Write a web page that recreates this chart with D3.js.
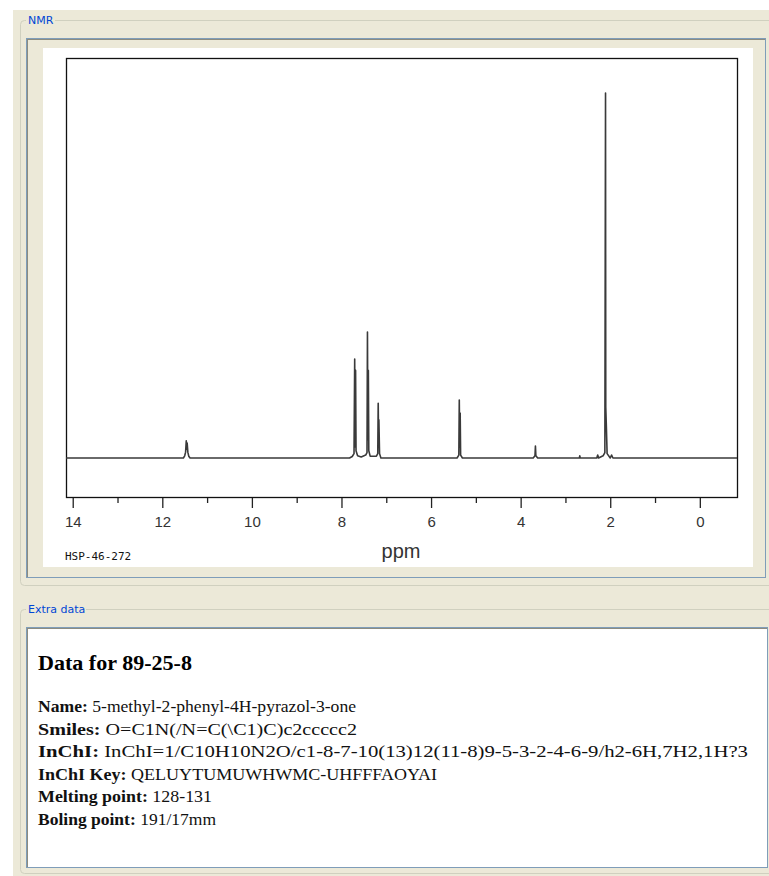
<!DOCTYPE html>
<html>
<head>
<meta charset="utf-8">
<script src="https://cdn.jsdelivr.net/npm/d3@7"></script>
<style>
  html, body { margin: 0; padding: 0; background: #fff; }
  svg { display: block; }
</style>
</head>
<body>
<svg id="nmr-page"></svg>
<script>
"use strict";

// spectrum, descending ppm (intensity: tallest peak = 100)
let shifts = [14.15, 11.53, 11.50, 11.48, 11.465, 11.455, 11.445, 11.43, 11.41, 11.38,
  7.82, 7.76, 7.72, 7.705, 7.695, 7.685, 7.675, 7.64, 7.56, 7.46, 7.43, 7.42, 7.41, 7.40, 7.39, 7.36,
  7.22, 7.19, 7.18, 7.17, 7.165, 7.15, 7.12,
  5.42, 5.38, 5.37, 5.36, 5.35, 5.34, 5.30,
  3.72, 3.68, 3.67, 3.66, 3.62,
  2.69, 2.68, 2.67,
  2.30, 2.28, 2.26, 2.16, 2.12, 2.105, 2.10, 2.085, 2.07, 2.00, 1.97, 1.94, -0.83];
let intensities = [0, 0, 0.6, 1.6, 4.7, 2.4, 4.1, 1.6, 0.5, 0,
  0, 0.4, 1.2, 27.1, 3.0, 24.0, 2.0, 0.6, 0.3, 0.8, 1.5, 34.5, 5.0, 24.0, 2.0, 0.5,
  0.5, 1.2, 15.0, 3.0, 10.5, 1.2, 0,
  0, 0.8, 15.9, 3.0, 12.3, 0.8, 0,
  0, 0.6, 3.3, 0.6, 0,
  0, 0.6, 0,
  0, 0.8, 0, 0.6, 1.5, 100, 14.0, 8.0, 1.2, 0, 0.8, 0, 0];

let majorTicks = [14, 12, 10, 8, 6, 4, 2, 0];
let minorTicks = [13, 11, 9, 7, 5, 3, 1];

let sampleCode = 'HSP-46-272';
let heading = 'Data for 89-25-8';
let fieldLabels = ['Name:', 'Smiles:', 'InChI:', 'InChI Key:', 'Melting point:', 'Boling point:'];
let fieldValues = ['5-methyl-2-phenyl-4H-pyrazol-3-one',
  'O=C1N(/N=C(\\C1)C)c2ccccc2',
  'InChI=1/C10H10N2O/c1-8-7-10(13)12(11-8)9-5-3-2-4-6-9/h2-6H,7H2,1H?3',
  'QELUYTUMUWHWMC-UHFFFAOYAI',
  '128-131',
  '191/17mm'];

let width = 769, height = 876;
let beige = '#ece9d8', etched = '#d0d0bf', blueBorder = '#7f9db9', labelBlue = '#0046d5';

let svg = d3.select('svg#nmr-page')
  .attr('width', width)
  .attr('height', height);

/* window panels */
svg.append('rect').attr('x', 13).attr('y', 10).attr('width', width - 13).attr('height', height - 10)
  .attr('fill', beige);

function fieldset(y, h, label, labelWidth) {
  svg.append('rect')
    .attr('x', 20.5).attr('y', y + 0.5).attr('width', 780).attr('height', h)
    .attr('rx', 4)
    .attr('fill', 'none')
    .attr('stroke', etched);
  svg.append('rect')
    .attr('x', 26).attr('y', y - 6).attr('width', labelWidth).attr('height', 12)
    .attr('fill', beige);
  svg.append('text')
    .attr('x', 28).attr('y', y + 4)
    .style('font-family', 'Tahoma, "DejaVu Sans", sans-serif')
    .style('font-size', '11px')
    .attr('fill', labelBlue)
    .text(label);
}

fieldset(20, 565, 'NMR', 29);
fieldset(609, 264, 'Extra data', 60);

// sunken chart box
svg.append('rect')
  .attr('x', 26.5).attr('y', 38.5).attr('width', 739).attr('height', 539)
  .attr('fill', beige)
  .attr('stroke', blueBorder);
svg.append('path')
  .attr('d', 'M27,39.5H765M27.5,39V577')
  .attr('stroke', '#8c8c80')
  .attr('stroke-width', 1);
svg.append('rect')
  .attr('x', 43).attr('y', 48).attr('width', 710).attr('height', 519)
  .attr('fill', '#fff');

// extra data box
svg.append('rect')
  .attr('x', 26.5).attr('y', 627.5).attr('width', 741).attr('height', 240)
  .attr('fill', '#fff')
  .attr('stroke', blueBorder);
svg.append('path')
  .attr('d', 'M27,628.5H767M27.5,628V867')
  .attr('stroke', '#8c8c80');

/* spectrum */
let plot = {left: 66, right: 737, top: 58, bottom: 497};

let xScale = d3.scaleLinear()
  .domain([14.15, -0.83])
  .range([plot.left, plot.right]);
let yScale = d3.scaleLinear()
  .domain([0, 100])
  .range([458, 93]);

svg.append('rect')
  .attr('x', plot.left + 0.5).attr('y', plot.top + 0.5)
  .attr('width', plot.right - plot.left).attr('height', plot.bottom - plot.top)
  .attr('fill', 'none')
  .attr('stroke', '#111')
  .attr('stroke-width', 1.3);

let points = shifts.map((s, i) => [s, intensities[i]]);
let drawSpectrum = d3.line()
  .x(d => xScale(d[0]))
  .y(d => yScale(d[1]));

svg.append('path')
  .datum(points)
  .attr('d', drawSpectrum)
  .attr('fill', 'none')
  .attr('stroke', '#3a3a3a')
  .attr('stroke-width', 1.6)
  .attr('stroke-linejoin', 'round');

/* ppm axis */
let axisY = plot.bottom + 1;
let majorAxis = svg.append('g')
  .attr('transform', `translate(0, ${axisY})`)
  .call(d3.axisBottom(xScale).tickValues(majorTicks).tickSize(10).tickPadding(8).tickFormat(d3.format('d')));
let minorAxis = svg.append('g')
  .attr('transform', `translate(0, ${axisY})`)
  .call(d3.axisBottom(xScale).tickValues(minorTicks).tickSize(5).tickFormat(''));
[majorAxis, minorAxis].forEach(g => {
  g.select('.domain').remove();
  g.selectAll('line').attr('stroke', '#222').attr('stroke-width', 1.3);
});
majorAxis.selectAll('text')
  .style('font-family', '"Liberation Sans", Arial, sans-serif')
  .style('font-size', '15px')
  .attr('fill', '#333');

svg.append('text')
  .attr('x', 401).attr('y', 558)
  .attr('text-anchor', 'middle')
  .style('font-family', '"Liberation Sans", Arial, sans-serif')
  .style('font-size', '20px')
  .attr('fill', '#333')
  .text('ppm');

svg.append('text')
  .attr('x', 65).attr('y', 560)
  .style('font-family', '"DejaVu Sans Mono", monospace')
  .style('font-size', '11px')
  .attr('fill', '#111')
  .text(sampleCode);

/* extra data text */
let serif = '"Liberation Serif", "Times New Roman", serif';
svg.append('text')
  .attr('x', 38).attr('y', 670)
  .style('font-family', serif)
  .style('font-size', '21px')
  .style('font-weight', 'bold')
  .attr('fill', '#000')
  .attr('textLength', 154)
  .attr('lengthAdjust', 'spacingAndGlyphs')
  .text(heading);

// rendered width of each line in the reference (old bitmap font is wider)
let lineWidths = [318, 319, 710, 399, 174, 178];
fieldLabels.forEach((label, i) => {
  let line = svg.append('text')
    .attr('x', 38).attr('y', 712 + i * 22.6)
    .style('font-family', serif)
    .style('font-size', '17px')
    .attr('fill', '#111')
    .attr('textLength', lineWidths[i])
    .attr('lengthAdjust', 'spacingAndGlyphs');
  line.append('tspan').style('font-weight', 'bold').text(label);
  line.append('tspan').text(' ' + fieldValues[i]);
});
</script>
</body>
</html>
